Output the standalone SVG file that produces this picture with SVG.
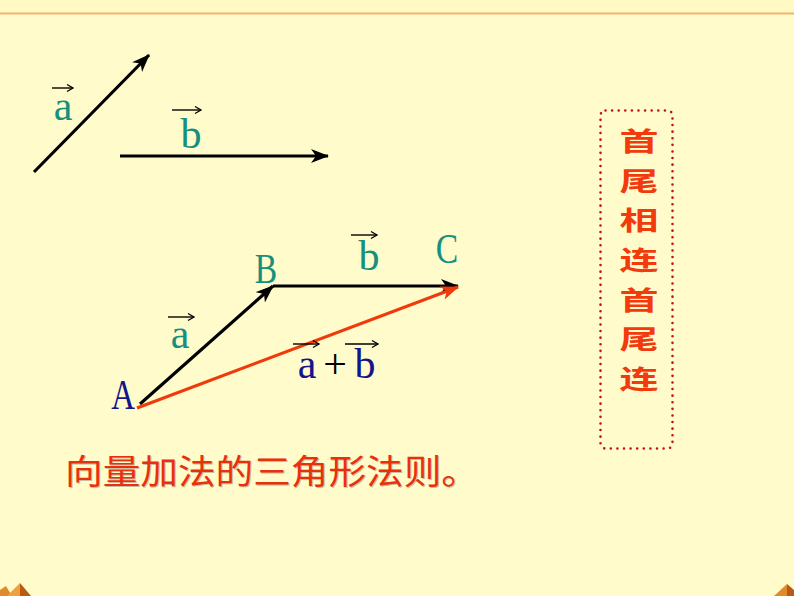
<svg xmlns="http://www.w3.org/2000/svg" width="794" height="596" viewBox="0 0 794 596">
<defs>
<style>
.vec{stroke:#000;stroke-width:3.2;fill:none;marker-end:url(#ah);}
.sum{stroke:#F03A0A;stroke-width:3.2;fill:none;marker-end:url(#ahr);}
.ov{stroke:#000;stroke-width:1.4;fill:none;marker-end:url(#sa);}
.lab{font-family:"Liberation Serif","Times New Roman",serif;font-size:42px;text-anchor:middle;}
.teal{fill:#14907F;}
.navy{fill:#14148C;}
.cjk{font-family:"Noto Sans CJK SC","Noto Sans",sans-serif;}
.vt{font-size:25px;font-weight:bold;fill:#F23A0C;text-anchor:middle;}
</style>
<marker id="ah" markerUnits="userSpaceOnUse" markerWidth="20" markerHeight="14" refX="17" refY="7" orient="auto" viewBox="0 0 20 14">
<path d="M0,0 L18,7 L0,14 L5,7 z" fill="#000"/>
</marker>
<marker id="ahr" markerUnits="userSpaceOnUse" markerWidth="20" markerHeight="14" refX="17" refY="7" orient="auto" viewBox="0 0 20 14">
<path d="M0,0 L18,7 L0,14 L5,7 z" fill="#F03A0A"/>
</marker>
<marker id="sa" markerUnits="userSpaceOnUse" markerWidth="10" markerHeight="10" refX="7" refY="4" orient="auto" viewBox="0 0 10 8">
<path d="M1,0.5 L7,4 L1,7.5" fill="none" stroke="#000" stroke-width="1.3"/>
</marker>
</defs>
<rect x="0" y="0" width="794" height="596" fill="#FFFBCB"/>
<rect x="0" y="0" width="794" height="12" fill="#FFF9C4"/>
<line x1="0" y1="13.5" x2="794" y2="13.5" stroke="#EFB46E" stroke-width="2.2"/>
<g id="decor">
<polygon points="0,590 6,586 12,596 0,596" fill="#E08A2A"/>
<polygon points="7,596 20,583 20,596" fill="#F0A040"/>
<polygon points="20,583 31,596 20,596" fill="#B85A12"/>
<polygon points="774,596 787,584 787,596" fill="#E08A2A"/>
<polygon points="787,584 794,590 794,596 787,596" fill="#B85A12"/>
</g>
<g id="connectors">
<line id="vec-a" class="vec" x1="34" y1="172" x2="149" y2="55"/>
<line id="vec-b" class="vec" x1="120" y1="156" x2="328" y2="156"/>
<line id="AB" class="vec" x1="140" y1="404" x2="273" y2="286"/>
<line id="BC" class="vec" x1="273" y1="286" x2="458" y2="286"/>
<line id="AC" class="sum" x1="137" y1="408" x2="458" y2="287"/>
</g>
<g id="label-a-top">
<text class="lab teal" x="63" y="120">a</text>
<line class="ov" x1="52" y1="88" x2="73" y2="88"/>
</g>
<g id="label-b-top">
<text class="lab teal" x="191" y="148">b</text>
<line class="ov" x1="172" y1="110" x2="201" y2="110"/>
</g>
<g id="node-A"><text class="lab navy" transform="translate(123,409) scale(0.78,1)">A</text></g>
<g id="node-B"><text class="lab teal" transform="translate(266,283) scale(0.8,1)">B</text></g>
<g id="node-C"><text class="lab teal" transform="translate(447,263) scale(0.8,1)">C</text></g>
<g id="label-b-tri">
<text class="lab teal" x="369" y="270">b</text>
<line class="ov" x1="351" y1="235" x2="377" y2="235"/>
</g>
<g id="label-a-tri">
<text class="lab teal" x="180" y="348">a</text>
<line class="ov" x1="168" y1="317" x2="194" y2="317"/>
</g>
<g id="label-sum">
<text class="lab navy" x="307" y="378">a</text>
<text class="lab" x="335" y="378" fill="#000">+</text>
<text class="lab navy" x="365" y="378">b</text>
<line class="ov" x1="293" y1="344" x2="319" y2="344"/>
<line class="ov" x1="345" y1="344" x2="378" y2="344"/>
</g>
<g id="note-box">
<rect x="600.5" y="110.5" width="72" height="338" rx="5" fill="none" stroke="#C01414" stroke-width="2.6" stroke-linecap="round" stroke-dasharray="0 6.6"/>
<text class="cjk vt" transform="translate(639,0) scale(1.56,1.05)"><tspan x="0" y="143.8">首</tspan><tspan x="0" y="181.6">尾</tspan><tspan x="0" y="219.3">相</tspan><tspan x="0" y="257.1">连</tspan><tspan x="0" y="295">首</tspan><tspan x="0" y="332.7">尾</tspan><tspan x="0" y="370.5">连</tspan></text>
</g>
<g id="caption">
<text class="cjk" x="66" y="485" font-size="34" fill="#C8C0A0" textLength="414" lengthAdjust="spacingAndGlyphs">向量加法的三角形法则。</text>
<text class="cjk" x="65" y="484" font-size="34" fill="#E8300C" textLength="414" lengthAdjust="spacingAndGlyphs">向量加法的三角形法则。</text>
</g>
</svg>
